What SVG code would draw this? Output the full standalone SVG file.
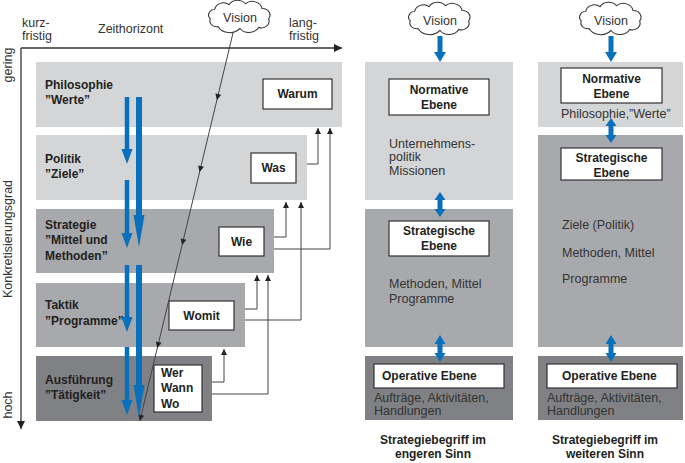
<svg xmlns="http://www.w3.org/2000/svg" width="685" height="463" viewBox="0 0 685 463">
<style>
text{font-family:"Liberation Sans",Arial,sans-serif;font-size:12.5px;fill:#333}
.b{font-weight:bold;font-size:12px;fill:#231f20}
.m{text-anchor:middle}
.l1{fill:#d4d5d7}
.l2{fill:#a8a9ac}
.l3{fill:#808184}
.box{fill:#fff;stroke:#333;stroke-width:1.2}
.cloud{fill:#fff;stroke:#333;stroke-width:1}
.blue{fill:#0a70bb}
.con{fill:none;stroke:#444;stroke-width:1}
.axis{fill:none;stroke:#333;stroke-width:1.3}
</style>
<defs>
<marker id="ah" viewBox="0 0 10 10" refX="10" refY="5" markerWidth="6" markerHeight="9" markerUnits="userSpaceOnUse" orient="auto"><path d="M0,0L10,5L0,10Z" fill="#222"/></marker>
<marker id="ax" viewBox="0 0 10 10" refX="10" refY="5" markerWidth="12" markerHeight="8" markerUnits="userSpaceOnUse" orient="auto"><path d="M0,0L10,5L0,10Z" fill="#222"/></marker>
<marker id="vm" viewBox="0 0 10 10" refX="10" refY="5" markerWidth="11" markerHeight="6" markerUnits="userSpaceOnUse" orient="auto"><path d="M0,0L10,5L0,10Z" fill="#222"/></marker>
<path id="cl" d="M-20,10 A6,6 0 0 1 -27,2 A6,6 0 0 1 -23,-8 A8,8 0 0 1 -10,-13 A9,9 0 0 1 5,-14 A9,9 0 0 1 20,-9 A7,7 0 0 1 26,2 A7,7 0 0 1 17,11 A10,10 0 0 1 0,12 A12,12 0 0 1 -20,10 Z"/>
</defs>

<g id="axes">
<path class="axis" d="M21,48 H342" marker-end="url(#ax)"/>
<path class="axis" d="M21,48 V429" marker-end="url(#ax)"/>
<text x="22" y="27">kurz-</text>
<text x="22" y="40">fristig</text>
<text x="98" y="33">Zeithorizont</text>
<text x="289" y="27">lang-</text>
<text x="289" y="40">fristig</text>
<text class="m" transform="translate(12,65) rotate(-90)">gering</text>
<text class="m" transform="translate(12,239) rotate(-90)">Konkretisierungsgrad</text>
<text class="m" transform="translate(12,405) rotate(-90)">hoch</text>
</g>

<g id="philosophie">
<rect class="l1" x="36" y="62" width="306" height="65"/>
<text class="b" x="45" y="89">Philosophie</text>
<text class="b" x="45" y="104">”Werte”</text>
<rect class="box" x="263" y="79" width="69" height="30"/>
<text class="b m" x="297.5" y="98">Warum</text>
</g>
<g id="politik">
<rect class="l1" x="36" y="135" width="271" height="65"/>
<text class="b" x="45" y="163">Politik</text>
<text class="b" x="45" y="178">”Ziele”</text>
<rect class="box" x="251" y="153" width="45" height="30"/>
<text class="b m" x="273.5" y="172">Was</text>
</g>
<g id="strategie">
<rect class="l2" x="36" y="209" width="238" height="64"/>
<text class="b" x="45" y="229">Strategie</text>
<text class="b" x="45" y="244">”Mittel und</text>
<text class="b" x="45" y="260">Methoden”</text>
<rect class="box" x="219" y="227" width="45" height="29"/>
<text class="b m" x="241.5" y="246">Wie</text>
</g>
<g id="taktik">
<rect class="l2" x="36" y="283" width="209" height="64"/>
<text class="b" x="45" y="309">Taktik</text>
<text class="b" x="45" y="325">”Programme”</text>
<rect class="box" x="169" y="301" width="65" height="29"/>
<text class="b m" x="201.5" y="320">Womit</text>
</g>
<g id="ausfuehrung">
<rect class="l3" x="36" y="356" width="176" height="65"/>
<text class="b" x="45" y="384">Ausführung</text>
<text class="b" x="45" y="399">”Tätigkeit”</text>
<rect class="box" x="154" y="365" width="48" height="47"/>
<text class="b" x="161" y="377">Wer</text>
<text class="b" x="161" y="392">Wann</text>
<text class="b" x="161" y="408">Wo</text>
</g>

<g id="vision-left">
<use href="#cl" class="cloud" transform="translate(240,17) scale(1.1,0.95)"/>
<text class="m" x="240" y="22">Vision</text>
</g>

<g id="vision-mid">
<use href="#cl" class="cloud" transform="translate(440,19) scale(1.1,0.95)"/>
<text class="m" x="440" y="25">Vision</text>
</g>
<g id="mid-normativ">
<rect class="l1" x="365" y="62" width="148" height="138"/>
<rect class="box" x="389" y="79" width="100" height="36"/>
<text class="b m" x="439" y="94">Normative</text>
<text class="b m" x="439" y="109">Ebene</text>
<text x="389" y="148">Unternehmens-</text>
<text x="389" y="161">politik</text>
<text x="389" y="175">Missionen</text>
</g>
<g id="mid-strategisch">
<rect class="l2" x="365" y="209" width="148" height="138"/>
<rect class="box" x="389" y="221" width="100" height="35"/>
<text class="b m" x="439" y="235">Strategische</text>
<text class="b m" x="439" y="250">Ebene</text>
<text x="389" y="288">Methoden, Mittel</text>
<text x="389" y="303">Programme</text>
</g>
<g id="mid-operativ">
<rect class="l3" x="365" y="356" width="148" height="64"/>
<rect class="box" x="374" y="364" width="130" height="24"/>
<text class="b" x="382" y="380">Operative Ebene</text>
<text x="374" y="402">Aufträge, Aktivitäten,</text>
<text x="374" y="415">Handlungen</text>
</g>
<g id="mid-caption">
<text class="b m" x="433" y="444">Strategiebegriff im</text>
<text class="b m" x="433" y="458">engeren Sinn</text>
</g>

<g id="vision-right">
<use href="#cl" class="cloud" transform="translate(611,19) scale(1.1,0.95)"/>
<text class="m" x="611" y="25">Vision</text>
</g>
<g id="right-normativ">
<rect class="l1" x="538" y="62" width="145" height="65"/>
<rect class="box" x="561" y="68" width="101" height="35"/>
<text class="b m" x="611.5" y="83">Normative</text>
<text class="b m" x="611.5" y="98">Ebene</text>
<text x="561" y="118">Philosophie,”Werte”</text>
</g>
<g id="right-strategisch">
<rect class="l2" x="538" y="135" width="145" height="212"/>
<rect class="box" x="561" y="148" width="101" height="32"/>
<text class="b m" x="611.5" y="162">Strategische</text>
<text class="b m" x="611.5" y="177">Ebene</text>
<text x="562" y="229">Ziele (Politik)</text>
<text x="562" y="257">Methoden, Mittel</text>
<text x="562" y="283">Programme</text>
</g>
<g id="right-operativ">
<rect class="l3" x="538" y="356" width="145" height="64"/>
<rect class="box" x="547" y="364" width="130" height="24"/>
<text class="b" x="562" y="380">Operative Ebene</text>
<text x="547" y="402">Aufträge, Aktivitäten,</text>
<text x="547" y="415">Handlungen</text>
</g>
<g id="right-caption">
<text class="b m" x="605" y="444">Strategiebegriff im</text>
<text class="b m" x="605" y="458">weiteren Sinn</text>
</g>

<g id="connectors">
<path class="con" d="M307,164 H318 V128" marker-end="url(#ah)"/>
<path class="con" d="M274,249 H330 V128" marker-end="url(#ah)"/>
<path class="con" d="M274,237 H286 V202" marker-end="url(#ah)"/>
<path class="con" d="M245,320 H301 V202" marker-end="url(#ah)"/>
<path class="con" d="M245,309 H257 V275" marker-end="url(#ah)"/>
<path class="con" d="M212,394 H268 V275" marker-end="url(#ah)"/>
<path class="con" d="M212,382 H224 V349" marker-end="url(#ah)"/>
<polyline class="con" points="233,33 216.9,100 199.6,172 182.1,245 157.3,348 139.8,421" marker-mid="url(#vm)" marker-end="url(#vm)"/>
<path class="blue" d="M124.75,97 H129.25 V149 H132.5 L127,164 L121.5,149 H124.75 Z"/>
<path class="blue" d="M124.75,180 H129.25 V233 H132.5 L127,248 L121.5,233 H124.75 Z"/>
<path class="blue" d="M124.75,265 H129.25 V317 H132.5 L127,332 L121.5,317 H124.75 Z"/>
<path class="blue" d="M124.75,347 H129.25 V400 H132.5 L127,415 L121.5,400 H124.75 Z"/>
<path class="blue" d="M136,97 H142 V215 H144.5 L139,247 L133.5,215 H136 Z"/>
<path class="blue" d="M136,265 H142 V385 H144.5 L139,418 L133.5,385 H136 Z"/>
<path class="blue" d="M437.5,36 H442.5 V52 H446 L440,62 L434,52 H437.5 Z"/>
<path class="blue" d="M440,192 L445.5,200 H442.5 V209 H445.5 L440,217 L434.5,209 H437.5 V200 H434.5 Z"/>
<path class="blue" d="M440,335 L445.5,344 H442.5 V353 H445.5 L440,362 L434.5,353 H437.5 V344 H434.5 Z"/>
<path class="blue" d="M608.5,36 H613.5 V52 H617 L611,62 L605,52 H608.5 Z"/>
<path class="blue" d="M611,118 L616.5,126 H613.5 V135 H616.5 L611,143 L605.5,135 H608.5 V126 H605.5 Z"/>
<path class="blue" d="M611,335 L616.5,344 H613.5 V353 H616.5 L611,362 L605.5,353 H608.5 V344 H605.5 Z"/>
</g>
</svg>
